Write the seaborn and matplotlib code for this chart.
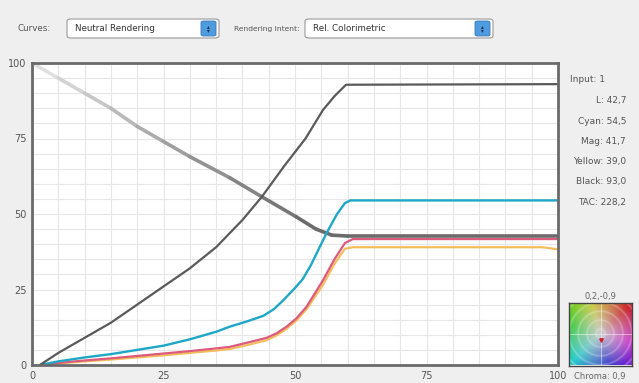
import numpy as np
import pandas as pd
import matplotlib
matplotlib.use("Agg")
import matplotlib.pyplot as plt
import matplotlib.colors as mcolors
from matplotlib.patches import FancyBboxPatch
import seaborn as sns

# curve data (input 0-100 -> output 0-100)
black_x = [1.5, 5, 10, 15, 20, 25, 30, 35, 40, 43.7, 48, 52, 55.3, 57.5, 59.7, 100]
black_y = [0, 4, 9, 14, 20, 26, 32, 39, 48, 55.7, 66, 75, 84.4, 89, 92.8, 93.0]

l_x = [0, 5, 10, 15, 20, 25, 30, 37.6, 43.7, 50.3, 54, 57, 60, 100]
l_y = [100, 95, 90, 85, 79, 74, 69, 62, 55.7, 49, 45, 43, 42.7, 42.7]

cyan_x = [1.5, 5, 10, 15, 20, 25, 30, 35, 37.6, 41, 44, 46, 47.8, 50, 51.5, 53, 56, 58, 59.5, 60.5, 100]
cyan_y = [0, 1.2, 2.5, 3.6, 5, 6.4, 8.5, 11, 12.7, 14.5, 16.3, 18.5, 21.5, 25.5, 28.5, 33, 43.7, 50, 53.6, 54.5, 54.5]

mag_x = [1.5, 5, 10, 15, 20, 25, 30, 35, 37.6, 41.4, 44.6, 46.5, 48.4, 50.3, 52.2, 55.3, 57.5, 59.5, 61, 100]
mag_y = [0, 0.7, 1.5, 2.2, 3, 3.8, 4.6, 5.5, 6, 7.6, 9, 10.5, 12.7, 15.5, 19.3, 28, 35, 40.4, 41.7, 41.7]

yel_x = [1.5, 5, 10, 15, 20, 25, 30, 35, 37.6, 41.4, 44.6, 46.5, 48.4, 50.3, 52.2, 55.3, 57.5, 59.5, 61, 97, 100]
yel_y = [0, 0.5, 1.2, 1.8, 2.5, 3.2, 4, 4.8, 5.3, 6.8, 8.2, 9.8, 12, 14.8, 18.5, 26.5, 33.5, 38.5, 39, 39, 38.3]

readout_labels = ["L: 42,7", "Cyan: 54,5", "Mag: 41,7", "Yellow: 39,0", "Black: 93,0", "TAC: 228,2"]
ticks = [0, 25, 50, 75, 100]

df = pd.concat([
    pd.DataFrame({"x": yel_x, "y": yel_y, "ch": "Yellow"}),
    pd.DataFrame({"x": mag_x, "y": mag_y, "ch": "Mag"}),
    pd.DataFrame({"x": cyan_x, "y": cyan_y, "ch": "Cyan"}),
    pd.DataFrame({"x": black_x, "y": black_y, "ch": "Black"}),
])
palette = {"Yellow": "#f3bd5c", "Mag": "#dc5a7c", "Cyan": "#1ea7c6", "Black": "#5a5a5a"}

sns.set_style("white")
fig = plt.figure(figsize=(6.39, 3.83), dpi=100)
fig.patch.set_facecolor("#efefef")
ax = fig.add_axes([32 / 639, 18 / 383, 526 / 639, 302 / 383])
ax.set_facecolor("white")

# grid every 5
ax.set_xticks(np.arange(0, 101, 5), minor=True)
ax.set_yticks(np.arange(0, 101, 5), minor=True)
ax.grid(True, which="both", color="#e6e6e6", lw=0.8)
ax.set_axisbelow(True)

sns.lineplot(data=df[df.ch == "Yellow"], x="x", y="y", color=palette["Yellow"], lw=1.6, ax=ax, legend=False)
sns.lineplot(data=df[df.ch == "Mag"], x="x", y="y", color=palette["Mag"], lw=1.6, ax=ax, legend=False)

# L curve: light grey fading to dark grey
n = len(l_x) - 1
for i in range(n):
    t = min(1.0, i / 9)
    g = 0.88 - 0.46 * t
    ax.plot(l_x[i:i + 2], l_y[i:i + 2], color=(g, g, g), lw=2.6, solid_capstyle="round")

sns.lineplot(data=df[df.ch == "Cyan"], x="x", y="y", color=palette["Cyan"], lw=1.7, ax=ax, legend=False)
sns.lineplot(data=df[df.ch == "Black"], x="x", y="y", color=palette["Black"], lw=1.6, ax=ax, legend=False)

ax.set_xlim(0, 100)
ax.set_ylim(0, 100)
ax.set_xticks(ticks)
ax.set_yticks(ticks)
ax.set_xticklabels([str(t) for t in ticks])
ax.set_yticklabels([str(t) for t in ticks])
ax.tick_params(which="both", length=0, labelsize=7, colors="#555555", pad=4)
ax.set_xlabel("")
ax.set_ylabel("")
for s in ax.spines.values():
    s.set_visible(True)
    s.set_color("#6a6a6a")
    s.set_linewidth(2)

# readout on the right
fig.text(570 / 639, 1 - 80 / 383, "Input: 1", fontsize=6.5, color="#555555", va="center", ha="left")
for i, lab in enumerate(readout_labels):
    fig.text(626 / 639, 1 - (101 + i * 20.2) / 383, lab, fontsize=6.5, color="#555555", va="center", ha="right")

# top controls
def dropdown(x0, x1, label):
    box = FancyBboxPatch((x0 / 639, 1 - 38 / 383), (x1 - x0) / 639, 19 / 383,
                         boxstyle="round,pad=0,rounding_size=0.006", transform=fig.transFigure,
                         facecolor="white", edgecolor="#9a9a9a", lw=0.8)
    fig.patches.append(box)
    btn = FancyBboxPatch(((x1 - 18) / 639, 1 - 36 / 383), 15 / 639, 15 / 383,
                         boxstyle="round,pad=0,rounding_size=0.004", transform=fig.transFigure,
                         facecolor="#4f9be0", edgecolor="#3a78b8", lw=0.6)
    fig.patches.append(btn)
    fig.text((x1 - 10.5) / 639, 1 - 28.5 / 383, "\u25b4\n\u25be", fontsize=4, color="#1c3050",
             ha="center", va="center", linespacing=0.7)
    fig.text((x0 + 8) / 639, 1 - 28.5 / 383, label, fontsize=6.3, color="#333333", va="center")

fig.text(18 / 639, 1 - 28.5 / 383, "Curves:", fontsize=6.3, color="#555555", va="center")
dropdown(67, 219, "Neutral Rendering")
fig.text(300 / 639, 1 - 28.5 / 383, "Rendering Intent:", fontsize=5.4, color="#555555", va="center", ha="right")
dropdown(305, 493, "Rel. Colorimetric")

# chroma square
cax = fig.add_axes([569 / 639, 17 / 383, 63 / 639, 64 / 383])
gx, gy = np.meshgrid(np.linspace(-1, 1, 120), np.linspace(-1, 1, 120))
ang = np.arctan2(gy, gx)
r = np.hypot(gx, gy)
hue = ((np.degrees(ang) - 45) / 360) % 1
sat = np.clip(r / 1.2, 0, 1) * 0.8
val = np.full_like(r, 0.8)
rgb = mcolors.hsv_to_rgb(np.dstack([hue, sat, val]))
ring = np.exp(-((r * 3.5) % 1 - 0.5) ** 2 / 0.01)
rgb = rgb + (1 - rgb) * 0.3 * ring[..., None]
cax.imshow(rgb, extent=[-1, 1, -1, 1], origin="lower")
cax.axhline(0, color="white", lw=0.5, alpha=0.7)
cax.axvline(0, color="white", lw=0.5, alpha=0.7)
cax.plot([0.0], [-0.2], marker="v", color="#d02030", ms=2.5)
cax.set_xticks([])
cax.set_yticks([])
for s in cax.spines.values():
    s.set_color("#444444")
    s.set_linewidth(1)
fig.text(600 / 639, 1 - 296 / 383, "0,2,-0,9", fontsize=6, color="#666666", ha="center", va="center")
fig.text(600 / 639, 1 - 377 / 383, "Chroma: 0,9", fontsize=6, color="#666666", ha="center", va="center")

fig.savefig("out.png", dpi=100, facecolor=fig.get_facecolor())
